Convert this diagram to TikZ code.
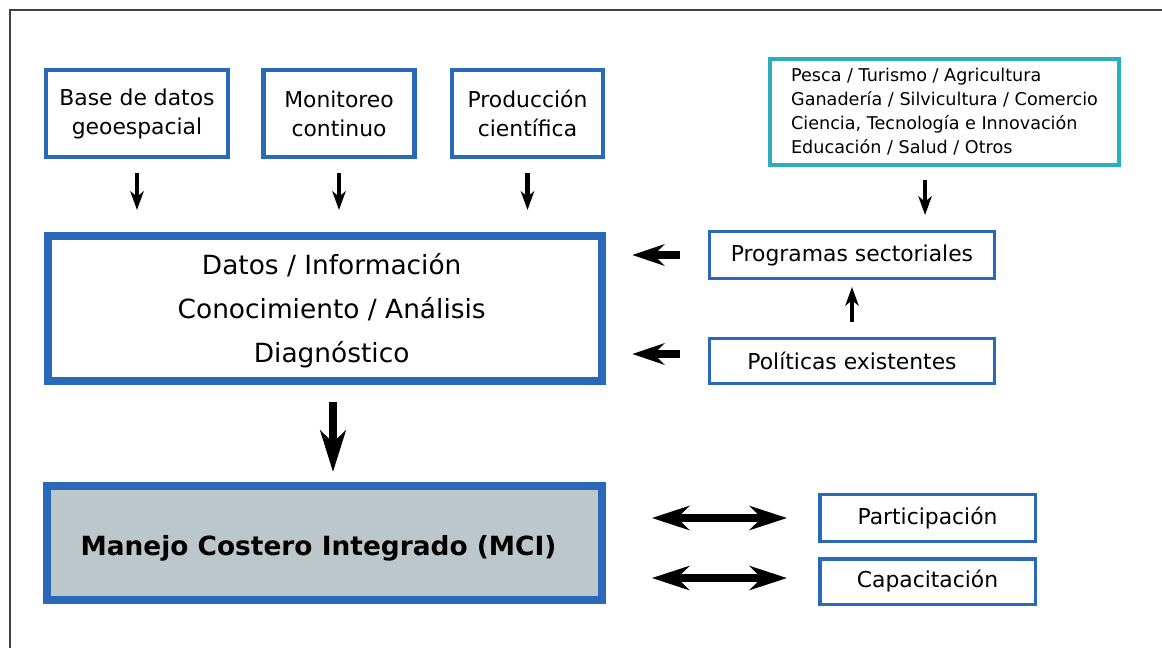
\documentclass[tikz,border=0pt]{standalone}
\usepackage{fontspec}
\setmainfont{DejaVu Sans}
\usetikzlibrary{arrows.meta}

\definecolor{boxblue}{RGB}{42,105,186}
\definecolor{boxteal}{RGB}{43,176,187}
\definecolor{mcigray}{RGB}{188,199,204}

\begin{document}
\begin{tikzpicture}[
    x=0.75pt, y=-0.75pt,
    every node/.style={inner sep=0pt},
    source/.style={
        draw=boxblue,
        line width=3.4pt,
        align=center,
        font=\fontsize{16.4}{21.75}\selectfont,
        minimum height=65.25pt
    },
    sidebox/.style={
        draw=boxblue,
        line width=2.6pt,
        align=center,
        font=\fontsize{16.4}{21.75}\selectfont
    },
    mainbox/.style={
        draw=boxblue,
        line width=6pt,
        align=center,
        minimum width=416pt
    },
    thinarr/.style={-{Stealth[length=14pt, width=10pt, inset=4pt]}, line width=3.3pt},
    fatarr/.style={-{Stealth[length=24pt, width=16pt, inset=8pt]}, line width=6pt},
    bigarr/.style={-{Stealth[length=31pt, width=19pt, inset=9pt]}, line width=6pt},
    dblarr/.style={{Stealth[length=28pt, width=18pt, inset=9pt]}-{Stealth[length=28pt, width=18pt, inset=9pt]}, line width=5.5pt}
]
    \useasboundingbox (0,0) rectangle (1162,648);

    % Frame
    \draw[line width=1.2pt, black!75] (10,648) -- (10,10) -- (1162,10);

    % Sources
    \node[source, minimum width=136.5pt] (base) at (137,113.5) {Base de datos\\ geoespacial};
    \node[source, minimum width=113pt] (moni) at (339,113.5) {Monitoreo\\ continuo};
    \node[source, minimum width=113pt] (prod) at (527.5,113.5) {Producción\\ científica};

    % Sectors
    \node[
        draw=boxteal,
        line width=3pt,
        align=left,
        minimum width=261.5pt,
        minimum height=79.5pt,
        font=\fontsize{13.2}{18}\selectfont
    ] (sector) at (944.5,112) {Pesca / Turismo / Agricultura\\ Ganadería / Silvicultura / Comercio\\ Ciencia, Tecnología e Innovación\\ Educación / Salud / Otros};

    % Main boxes
    \node[
        mainbox,
        minimum height=108.75pt,
        label={[font=\fontsize{19.8}{33}\selectfont, align=center, xshift=5pt, yshift=-1.5pt]center:Datos / Información\\ Conocimiento / Análisis\\ Diagnóstico}
    ] (datos) at (325,308.5) {};

    \node[
        mainbox,
        fill=mcigray,
        minimum height=85.5pt,
        label={[font=\fontsize{19.8}{24}\selectfont\bfseries, xshift=-4.5pt, yshift=-4pt]center:Manejo Costero Integrado (MCI)}
    ] (mci) at (324.5,543) {};

    % Side boxes
    \node[sidebox, minimum width=213.4pt, minimum height=34.9pt] (prog) at (852,255) {Programas sectoriales};
    \node[sidebox, minimum width=213.4pt, minimum height=34.1pt] (poli) at (852,361) {Políticas existentes};
    \node[sidebox, minimum width=161.6pt, minimum height=34.9pt] (part) at (927.5,518) {Participación};
    \node[sidebox, minimum width=161.6pt, minimum height=34.1pt] (capa) at (927.5,581.5) {Capacitación};

    % Arrows
    \foreach \src in {base, moni, prod}
        \draw[thinarr, shorten <=10.5pt, shorten >=16.5pt] (\src.south) -- (\src.south |- datos.north);

    \draw[thinarr, shorten <=9.75pt, shorten >=11.25pt]
        ([xshift=-14.6pt]sector.south) -- ([xshift=-14.6pt]sector.south |- prog.north);
    \draw[thinarr, shorten <=11pt, shorten >=5.25pt] (poli.north) -- (prog.south);

    \draw[fatarr, shorten <=21pt, shorten >=19.5pt] (prog.west) -- (prog.west -| datos.east);
    \draw[fatarr, shorten <=21pt, shorten >=19.5pt]
        ([yshift=5.25pt]poli.west) -- ([yshift=5.25pt]poli.west -| datos.east);

    \draw[bigarr, shorten <=12.75pt, shorten >=7.5pt]
        ([xshift=6pt]datos.south) -- ([xshift=6pt]datos.south |- mci.north);

    \draw[dblarr, shorten <=34.5pt, shorten >=23.25pt] (part.west -| mci.east) -- (part.west);
    \draw[dblarr, shorten <=34.5pt, shorten >=23.25pt] ([yshift=2.6pt]capa.west -| mci.east) -- ([yshift=2.6pt]capa.west);

\end{tikzpicture}
\end{document}
